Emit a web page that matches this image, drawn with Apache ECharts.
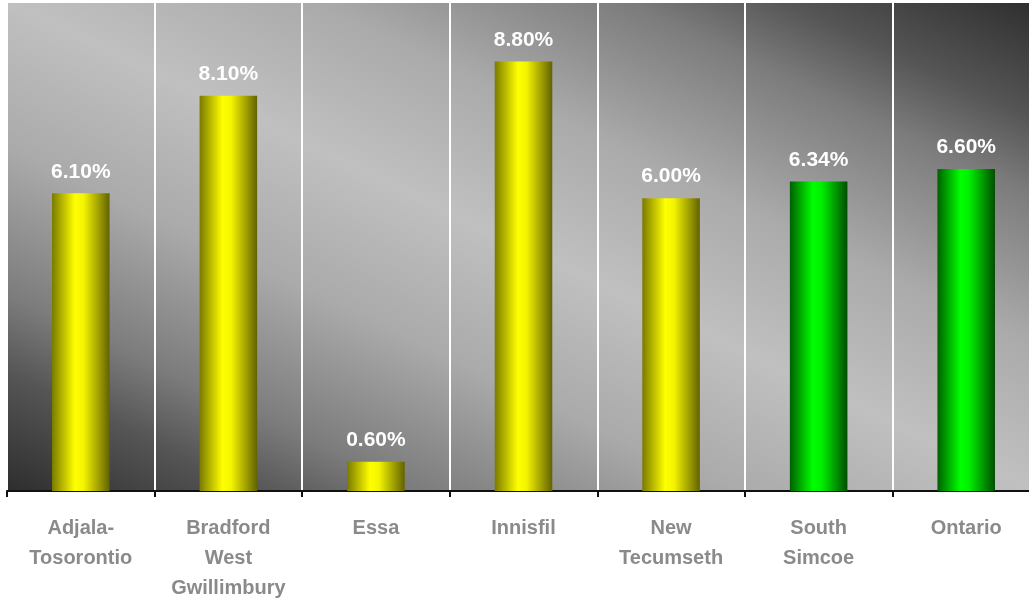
<!DOCTYPE html>
<html>
<head>
<meta charset="utf-8">
<script src="https://cdn.jsdelivr.net/npm/echarts@6/dist/echarts.min.js"></script>
<style>
html,body{margin:0;padding:0;background:#fff;overflow:hidden;width:1029px;height:608px;}
#chart{width:1040px;height:608px;}
</style>
</head>
<body>
<div id="chart"></div>
<script>
const categories = ['Adjala-\nTosorontio', 'Bradford\nWest\nGwillimbury', 'Essa', 'Innisfil', 'New\nTecumseth', 'South\nSimcoe', 'Ontario'];
const values = [6.10, 8.10, 0.60, 8.80, 6.00, 6.34, 6.60];
const benchmarkCategories = ['South\nSimcoe', 'Ontario'];

const yellowFill = new echarts.graphic.LinearGradient(0, 0, 1, 0, [
  {offset: 0, color: '#7a7a00'},
  {offset: 0.4, color: '#ffff00'},
  {offset: 0.55, color: '#f4f400'},
  {offset: 1, color: '#626200'}
]);
const greenFill = new echarts.graphic.LinearGradient(0, 0, 1, 0, [
  {offset: 0, color: '#006000'},
  {offset: 0.4, color: '#00ff00'},
  {offset: 0.55, color: '#00f000'},
  {offset: 1, color: '#004e00'}
]);
const bgFill = new echarts.graphic.LinearGradient(0.3166, 1.3166, 0.6834, -0.3166, [
  {offset: 0, color: '#2e2e2e'},
  {offset: 0.12, color: '#555555'},
  {offset: 0.2, color: '#7c7c7c'},
  {offset: 0.35, color: '#aaaaaa'},
  {offset: 0.5, color: '#c0c0c0'},
  {offset: 0.65, color: '#aaaaaa'},
  {offset: 0.8, color: '#7c7c7c'},
  {offset: 0.88, color: '#555555'},
  {offset: 1, color: '#2e2e2e'}
]);

const chart = echarts.init(document.getElementById('chart'), null, {renderer: 'canvas'});
chart.setOption({
  animation: false,
  backgroundColor: '#ffffff',
  grid: {left: 7, right: 0, top: 3, bottom: 117, show: true, backgroundColor: bgFill, borderWidth: 0, outerBoundsMode: 'none'},
  xAxis: {
    type: 'category',
    data: categories,
    axisLine: {lineStyle: {color: '#111', width: 2}},
    axisTick: {show: true, length: 6, lineStyle: {color: '#111', width: 2}},
    splitLine: {show: true, interval: 0, lineStyle: {color: '#ffffff', width: 2}},
    axisLabel: {
      interval: 0, margin: 22, color: '#8a8a8a', fontFamily: 'Liberation Sans, Arial, sans-serif',
      fontWeight: 'bold', fontSize: 20, lineHeight: 30
    }
  },
  yAxis: {
    type: 'value', min: 0, max: 10, interval: 2, show: false,
    splitLine: {show: false}
  },
  series: [{
    type: 'bar',
    data: values.map((v, i) => ({
      value: v,
      itemStyle: {color: benchmarkCategories.includes(categories[i]) ? greenFill : yellowFill}
    })),
    barWidth: '39%',
    label: {
      show: true, position: 'top', distance: 11, color: '#ffffff',
      fontFamily: 'Liberation Sans, Arial, sans-serif', fontWeight: 'bold', fontSize: 21,
      formatter: p => p.value.toFixed(2) + '%'
    }
  }]
});
</script>
</body>
</html>
